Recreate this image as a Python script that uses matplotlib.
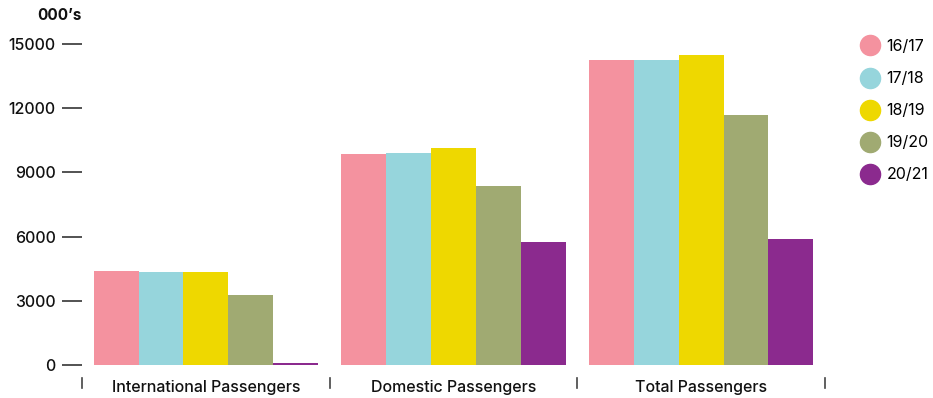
import numpy as np
import matplotlib.pyplot as plt
from matplotlib.lines import Line2D

plt.rcParams['font.family'] = ['Inter', 'DejaVu Sans']

# passenger numbers, thousands
categories = ['International Passengers', 'Domestic Passengers', 'Total Passengers']
years = ['16/17', '17/18', '18/19', '19/20', '20/21']
values = {
    '16/17': [4400, 9860, 14250],
    '17/18': [4350, 9900, 14250],
    '18/19': [4350, 10140, 14490],
    '19/20': [3270, 8370, 11680],
    '20/21': [100, 5750, 5890],
}
colors = ['#F4929F', '#96D5DC', '#EED800', '#A0AA72', '#8B2A8E']
yticks = [0, 3000, 6000, 9000, 12000, 15000]

fig = plt.figure(figsize=(9.33, 3.98), dpi=100)
ax = fig.add_axes([0.0879, 0.0829, 0.7963, 0.8065])

x = np.arange(len(categories))
width = 0.181
for i, (yr, col) in enumerate(zip(years, colors)):
    ax.bar(x + (i - 2) * width, values[yr], width, color=col, label=yr)

ax.set_xlim(-0.5, len(categories) - 0.5)
ax.set_ylim(0, 15000)
for s in ax.spines.values():
    s.set_visible(False)

ax.set_yticks(yticks)
ax.set_yticklabels([str(v) for v in yticks], fontsize=11.5, fontweight='medium', color='#111111')
ax.tick_params(axis='y', length=14.4, width=1.3, color='#444444', pad=4.5)

ax.set_xticks(x)
ax.set_xticklabels(categories, fontsize=11.5, fontweight='medium', color='#111111')
ax.tick_params(axis='x', length=0, pad=11)

# small separators between the category groups
for sx in np.arange(len(categories) + 1) - 0.5:
    ax.plot([sx, sx], [-0.041, -0.072], color='#444444', lw=1.2,
            transform=ax.get_xaxis_transform(), clip_on=False)

fig.text(0.088, 0.96, "000\u2019s", ha='right', va='center',
         fontsize=11, fontweight='bold', color='#111111')

handles = [Line2D([], [], marker='o', ls='', markersize=14.5, color=c) for c in colors]
fig.legend(handles, years, loc='upper left', bbox_to_anchor=(0.916, 0.918),
           frameon=False, fontsize=11.5, labelspacing=1.07, handletextpad=0.5,
           borderaxespad=0, handlelength=1.1)

fig.savefig('out.png', dpi=100)
